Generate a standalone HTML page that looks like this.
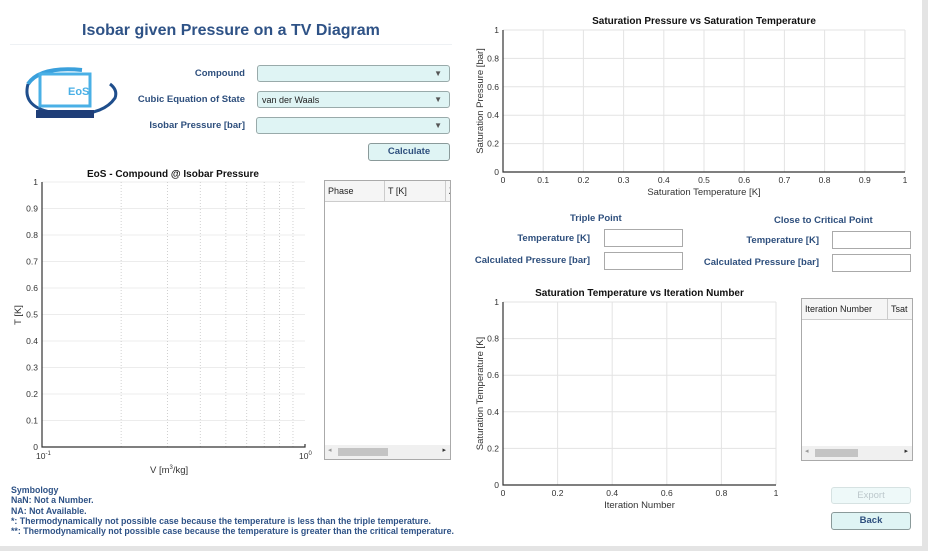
<!DOCTYPE html>
<html><head><meta charset="utf-8"><style>
body{margin:0;width:928px;height:551px;overflow:hidden;background:#fff;font-family:"Liberation Sans",sans-serif;position:relative}
.a{position:absolute}
.lbl{position:absolute;color:#2e4f7d;font-size:9.5px;font-weight:bold;white-space:nowrap}
.dd{position:absolute;background:#dff4f4;border:1px solid #9aa;border-radius:3px;height:16px;font-size:9px;color:#222;line-height:16px;padding-left:4px;box-sizing:border-box}
.dd span{position:absolute;right:7px;top:0;font-size:8px;color:#555}
.btn{position:absolute;background:#dff4f4;border:1px solid #8a9a9a;border-radius:3px;text-align:center;font-size:9.5px;font-weight:bold;color:#2e4f7d;box-sizing:border-box}
.box{position:absolute;border:1px solid #aaa;background:#fff;box-sizing:border-box}
.tbl{position:absolute;border:1px solid #aaa;background:#fff;box-sizing:border-box;overflow:hidden}
.th{position:absolute;top:0;height:21px;background:#f5f5f5;border-right:1px solid #ccc;border-bottom:1px solid #ccc;font-size:9px;line-height:21px;padding-left:3px;box-sizing:border-box;color:#222}
svg text{font-family:"Liberation Sans",sans-serif}
</style></head><body>
<div class="a" style="left:82px;top:22px;font-size:16px;font-weight:bold;color:#2e5286">Isobar given Pressure on a TV Diagram</div>
<div class="a" style="left:10px;top:44px;width:442px;height:1px;background:#eef1f4"></div>
<svg class="a" style="left:20px;top:62px" width="100" height="65">
<path d="M8 22 Q20 4 62 8" stroke="#3aa0dc" stroke-width="4" fill="none"/>
<path d="M8 22 Q2 44 30 50 Q80 58 95 36 Q98 28 90 22" stroke="#1f4e8c" stroke-width="3" fill="none"/>
<rect x="20" y="12" width="50" height="32" fill="none" stroke="#4ab0e6" stroke-width="3"/>
<text x="48" y="33" font-size="11" font-weight="bold" fill="#4ab0e6">EoS</text>
<rect x="16" y="48" width="58" height="8" fill="#1f3e78"/>
</svg>
<div class="lbl" style="right:683px;top:68px">Compound</div>
<div class="lbl" style="right:683px;top:94px">Cubic Equation of State</div>
<div class="lbl" style="right:683px;top:120px">Isobar Pressure [bar]</div>
<div class="dd" style="left:257px;top:65px;width:193px;height:17px"><span>▼</span></div>
<div class="dd" style="left:257px;top:91px;width:193px;height:17px">van der Waals<span>▼</span></div>
<div class="dd" style="left:256px;top:117px;width:194px;height:17px"><span>▼</span></div>
<div class="btn" style="left:368px;top:143px;width:82px;height:18px;line-height:16px">Calculate</div>

<svg class="a" id="chartTV" style="left:0;top:160px" width="320" height="330"></svg>
<svg class="a" id="chartPS" style="left:464px;top:0" width="464" height="200"></svg>
<svg class="a" id="chartIT" style="left:464px;top:285px" width="330" height="230"></svg>

<div class="tbl" style="left:324px;top:180px;width:127px;height:280px">
<div class="th" style="left:0;width:60px">Phase</div>
<div class="th" style="left:60px;width:61px">T [K]</div>
<div class="th" style="left:121px;width:20px">Z</div>
<div class="a" style="left:0;bottom:0;width:125px;height:14px;background:#f0f0f0"><div class="a" style="left:13px;top:3px;width:50px;height:8px;background:#c4c4c4"></div><div class="a" style="left:3px;top:1px;font-size:7px;color:#999">◂</div><div class="a" style="right:4px;top:1px;font-size:7px;color:#333">▸</div></div>
</div>
<div class="tbl" style="left:801px;top:298px;width:112px;height:163px">
<div class="th" style="left:0;width:86px">Iteration Number</div>
<div class="th" style="left:86px;width:30px">Tsat</div>
<div class="a" style="left:0;bottom:0;width:110px;height:14px;background:#f0f0f0"><div class="a" style="left:13px;top:3px;width:43px;height:8px;background:#c4c4c4"></div><div class="a" style="left:3px;top:1px;font-size:7px;color:#999">◂</div><div class="a" style="right:4px;top:1px;font-size:7px;color:#333">▸</div></div>
</div>

<div class="lbl" style="left:570px;top:213px">Triple Point</div>
<div class="lbl" style="right:338px;top:233px">Temperature [K]</div>
<div class="lbl" style="right:338px;top:255px">Calculated Pressure [bar]</div>
<div class="box" style="left:604px;top:229px;width:79px;height:18px"></div>
<div class="box" style="left:604px;top:252px;width:79px;height:18px"></div>
<div class="lbl" style="left:774px;top:215px">Close to Critical Point</div>
<div class="lbl" style="right:109px;top:235px">Temperature [K]</div>
<div class="lbl" style="right:109px;top:257px">Calculated Pressure [bar]</div>
<div class="box" style="left:832px;top:231px;width:79px;height:18px"></div>
<div class="box" style="left:832px;top:254px;width:79px;height:18px"></div>

<div class="btn" style="left:831px;top:487px;width:80px;height:17px;line-height:15px;color:#bcc8cc;background:#eef9f9;border-color:#d6e2e2;font-weight:normal">Export</div>
<div class="btn" style="left:831px;top:512px;width:80px;height:18px;line-height:16px">Back</div>

<div class="a" style="left:11px;top:485px;font-size:8.8px;line-height:10.3px;font-weight:bold;color:#2e5286;white-space:nowrap">Symbology<br>NaN: Not a Number.<br>NA: Not Available.<br>*: Thermodynamically not possible case because the temperature is less than the triple temperature.<br>**: Thermodynamically not possible case because the temperature is greater than the critical temperature.</div>

<div class="a" style="left:0;top:546px;width:928px;height:5px;background:#e4e4e4"></div>
<div class="a" style="left:922px;top:0;width:6px;height:551px;background:#e4e4e4"></div>

<script>
// TV chart data (empty series, log x axis)
const tvYTicks=[0,0.1,0.2,0.3,0.4,0.5,0.6,0.7,0.8,0.9,1];
const tvXMinor=[0.2,0.3,0.4,0.5,0.6,0.7,0.8,0.9];
const tvXDecades=[0.1,1];
// Saturation pressure chart
const psXTicks=[0,0.1,0.2,0.3,0.4,0.5,0.6,0.7,0.8,0.9,1];
const psYTicks=[0,0.2,0.4,0.6,0.8,1];
// Iteration chart
const itXTicks=[0,0.2,0.4,0.6,0.8,1];
const itYTicks=[0,0.2,0.4,0.6,0.8,1];
const NS='http://www.w3.org/2000/svg';
function mk(svg,tag,attrs,txt){const e=document.createElementNS(NS,tag);for(const k in attrs)e.setAttribute(k,attrs[k]);if(txt!==undefined)e.textContent=txt;svg.appendChild(e);return e;}
function fmt(v){return String(Math.round(v*10)/10);}
function linChart(svg,o){
  const sx=v=>o.x0+(v-o.xmin)/(o.xmax-o.xmin)*(o.x1-o.x0);
  const sy=v=>o.y1-(v-o.ymin)/(o.ymax-o.ymin)*(o.y1-o.y0);
  mk(svg,'rect',{x:o.x0,y:o.y0,width:o.x1-o.x0,height:o.y1-o.y0,fill:'#fff'});
  o.xt.forEach(v=>{const g=mk(svg,'line',{x1:sx(v),x2:sx(v),y1:o.y0,y2:o.y1,stroke:'#e3e3e3','stroke-width':1});
    
    
    const t=mk(svg,'text',{x:sx(v),y:o.y1+11,'font-size':8.5,fill:'#333','text-anchor':'middle'},fmt(v));
    
    });
  o.yt.forEach(v=>{const g=mk(svg,'line',{x1:o.x0,x2:o.x1,y1:sy(v),y2:sy(v),stroke:'#e3e3e3','stroke-width':1});
    
    
    const t=mk(svg,'text',{x:o.x0-4,y:sy(v)+3,'font-size':8.5,fill:'#333','text-anchor':'end'},fmt(v));
    
    });
  mk(svg,'path',{d:`M${o.x0} ${o.y0}V${o.y1}H${o.x1}`,stroke:'#333',fill:'none','stroke-width':1.2});
  const tt=mk(svg,'text',{x:(o.x0+o.x1)/2,y:o.y0-6,'font-size':10,'font-weight':'bold',fill:'#111','text-anchor':'middle'},o.title);
  
  
  const xl=mk(svg,'text',{x:(o.x0+o.x1)/2,y:o.y1+23,'font-size':9.5,fill:'#333','text-anchor':'middle'},o.xlabel);
  
  
  const cy=(o.y0+o.y1)/2;
  const yl=mk(svg,'text',{x:o.x0-20,y:cy,'font-size':9.5,fill:'#333','text-anchor':'middle',transform:`rotate(-90 ${o.x0-20} ${cy})`},o.ylabel);
  
  
}
linChart(document.getElementById('chartPS'),{x0:39,x1:441,y0:30,y1:172,xmin:0,xmax:1,ymin:0,ymax:1,xt:psXTicks,yt:psYTicks,title:'Saturation Pressure vs Saturation Temperature',xlabel:'Saturation Temperature [K]',ylabel:'Saturation Pressure [bar]'});
linChart(document.getElementById('chartIT'),{x0:39,x1:312,y0:17,y1:200,xmin:0,xmax:1,ymin:0,ymax:1,xt:itXTicks,yt:itYTicks,title:'Saturation Temperature vs Iteration Number',xlabel:'Iteration Number',ylabel:'Saturation Temperature [K]'});
// TV chart (log x)
(function(){
  const svg=document.getElementById('chartTV');
  const x0=42,x1=305,y0=22,y1=287;
  const sx=v=>x0+(Math.log10(v)-Math.log10(tvXDecades[0]))/(Math.log10(tvXDecades[1])-Math.log10(tvXDecades[0]))*(x1-x0);
  const sy=v=>y1-v*(y1-y0);
  mk(svg,'rect',{x:x0,y:y0,width:x1-x0,height:y1-y0,fill:'#fff'});
  tvYTicks.forEach(v=>{const g=mk(svg,'line',{x1:x0,x2:x1,y1:sy(v),y2:sy(v),stroke:'#ececec'});
    
    
    const t=mk(svg,'text',{x:x0-4,y:sy(v)+3,'font-size':8.5,fill:'#333','text-anchor':'end'},fmt(v));
    
    });
  tvXMinor.forEach(v=>{const g=mk(svg,'line',{x1:sx(v),x2:sx(v),y1:y0,y2:y1,stroke:'#d0d0d0','stroke-dasharray':'1 2'});
    
    });
  mk(svg,'path',{d:`M${x0} ${y0}V${y1}H${x1}V${y1-3}`,stroke:'#333',fill:'none','stroke-width':1.2});
  tvXDecades.forEach((v,i)=>{const t=mk(svg,'text',{x:sx(v)-6,y:y1+12,'font-size':8.5,fill:'#333'});
    
    
    t.innerHTML='10<tspan dy="-4" font-size="6">'+(Math.log10(v)<0?'-1':'0')+'</tspan>';});
  const tt=mk(svg,'text',{x:173,y:y0-5,'font-size':10,'font-weight':'bold',fill:'#111','text-anchor':'middle'},'EoS - Compound @ Isobar Pressure');
  
  
  const xl=mk(svg,'text',{x:150,y:y1+26,'font-size':9.5,fill:'#333'});
  
  
  xl.innerHTML='V  [m<tspan dy="-4" font-size="6">3</tspan><tspan dy="4">/kg]</tspan>';
  const yl=mk(svg,'text',{x:21,y:155,'font-size':9.5,fill:'#333','text-anchor':'middle',transform:'rotate(-90 21 155)'},'T [K]');
  
  
})();
</script>
</body></html>
